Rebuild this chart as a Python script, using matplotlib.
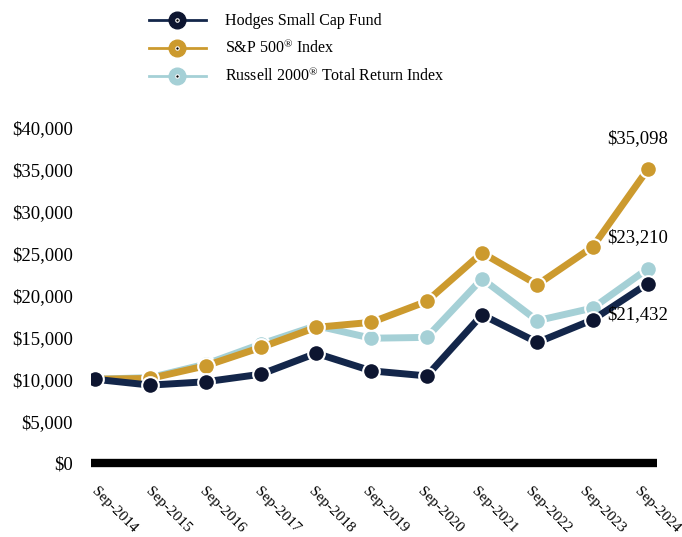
import matplotlib
matplotlib.use("Agg")
import matplotlib.pyplot as plt
import matplotlib.transforms as mtransforms
from matplotlib.lines import Line2D

plt.rcParams["font.family"] = ["Liberation Serif", "DejaVu Serif"]
plt.rcParams["mathtext.fontset"] = "custom"
plt.rcParams["mathtext.rm"] = "Liberation Serif"
plt.rcParams["mathtext.it"] = "Liberation Serif"

# ── Data (growth of $10,000) ──
years = ["Sep-2014", "Sep-2015", "Sep-2016", "Sep-2017", "Sep-2018", "Sep-2019",
         "Sep-2020", "Sep-2021", "Sep-2022", "Sep-2023", "Sep-2024"]
hodges = [10000, 9300, 9700, 10600, 13100, 11000, 10400, 17700, 14400, 17100, 21432]
sp500 = [10000, 10100, 11600, 13800, 16200, 16800, 19300, 25100, 21300, 25800, 35098]
russell = [10000, 10200, 11800, 14200, 16400, 14900, 15000, 22000, 17000, 18500, 23210]
yticks = [0, 5000, 10000, 15000, 20000, 25000, 30000, 35000, 40000]

NAVY = "#13264a"
NAVY_DOT = "#0d1530"
GOLD = "#cc9a2e"
AQUA = "#a5d0d6"

fig = plt.figure(figsize=(6.82, 5.37), dpi=100)
ax = fig.add_axes([0.1334, 0.1378, 0.8299, 0.6238])

x = list(range(len(years)))
series = [
    (russell, AQUA, AQUA, "Russell 2000$^{\\mathrm{\u00ae}}$ Total Return Index"),
    (sp500, GOLD, GOLD, "S&P 500$^{\\mathrm{\u00ae}}$ Index"),
    (hodges, NAVY, NAVY_DOT, "Hodges Small Cap Fund"),
]
for vals, lc, mc, _ in series:
    ax.plot(x, vals, color=lc, linewidth=5, marker="o", markersize=12,
            markerfacecolor=mc, markeredgecolor="white", markeredgewidth=1.5,
            solid_capstyle="butt", zorder=3)

ax.axhline(0, color="black", linewidth=6, zorder=2, clip_on=False,
           solid_capstyle="butt")

ax.set_xlim(-0.072, 10.163)
ax.set_ylim(0, 40000)
ax.set_yticks(yticks)
ax.set_yticklabels([f"${v:,.0f}" for v in yticks], fontsize=13.5)
ax.set_xticks(x)
ax.set_xticklabels(years, fontsize=11, rotation=-45, ha="left", va="top",
                   rotation_mode="anchor")
ax.tick_params(axis="y", length=0, pad=13)
ax.tick_params(axis="x", length=0, pad=16)
# labels drift slightly left of their ticks, as in the original
for i, lbl in enumerate(ax.get_xticklabels()):
    shift = mtransforms.ScaledTranslation((3 - 1.0 * i) / 72 * 0.72, 0,
                                          fig.dpi_scale_trans)
    lbl.set_transform(lbl.get_transform() + shift)
for s in ax.spines.values():
    s.set_visible(False)

# end labels
ax.annotate(f"${sp500[-1]:,}", (x[-1], sp500[-1]), xytext=(-10, 30),
            textcoords="offset pixels", ha="center", va="center", fontsize=13.5)
ax.annotate(f"${russell[-1]:,}", (x[-1], russell[-1]), xytext=(-10, 31),
            textcoords="offset pixels", ha="center", va="center", fontsize=13.5)
ax.annotate(f"${hodges[-1]:,}", (x[-1], hodges[-1]), xytext=(-10, -31),
            textcoords="offset pixels", ha="center", va="center", fontsize=13.5)

# legend
handles = []
for vals, lc, mc, lab in reversed(series):
    ring = Line2D([], [], color=lc, linewidth=2, marker="o", markersize=12,
                  markerfacecolor=mc, markeredgecolor=mc)
    dot = Line2D([], [], linestyle="none", marker="o", markersize=2.5,
                 markerfacecolor="black", markeredgecolor="white",
                 markeredgewidth=0.8)
    handles.append((ring, dot))
labels = [s[3] for s in reversed(series)]
fig.legend(handles, labels, loc="upper left", bbox_to_anchor=(0.197, 1.002),
           frameon=False, fontsize=11.5, handlelength=3.6, handletextpad=1.17,
           labelspacing=0.62)

fig.savefig("out.png", dpi=100, facecolor="white")
